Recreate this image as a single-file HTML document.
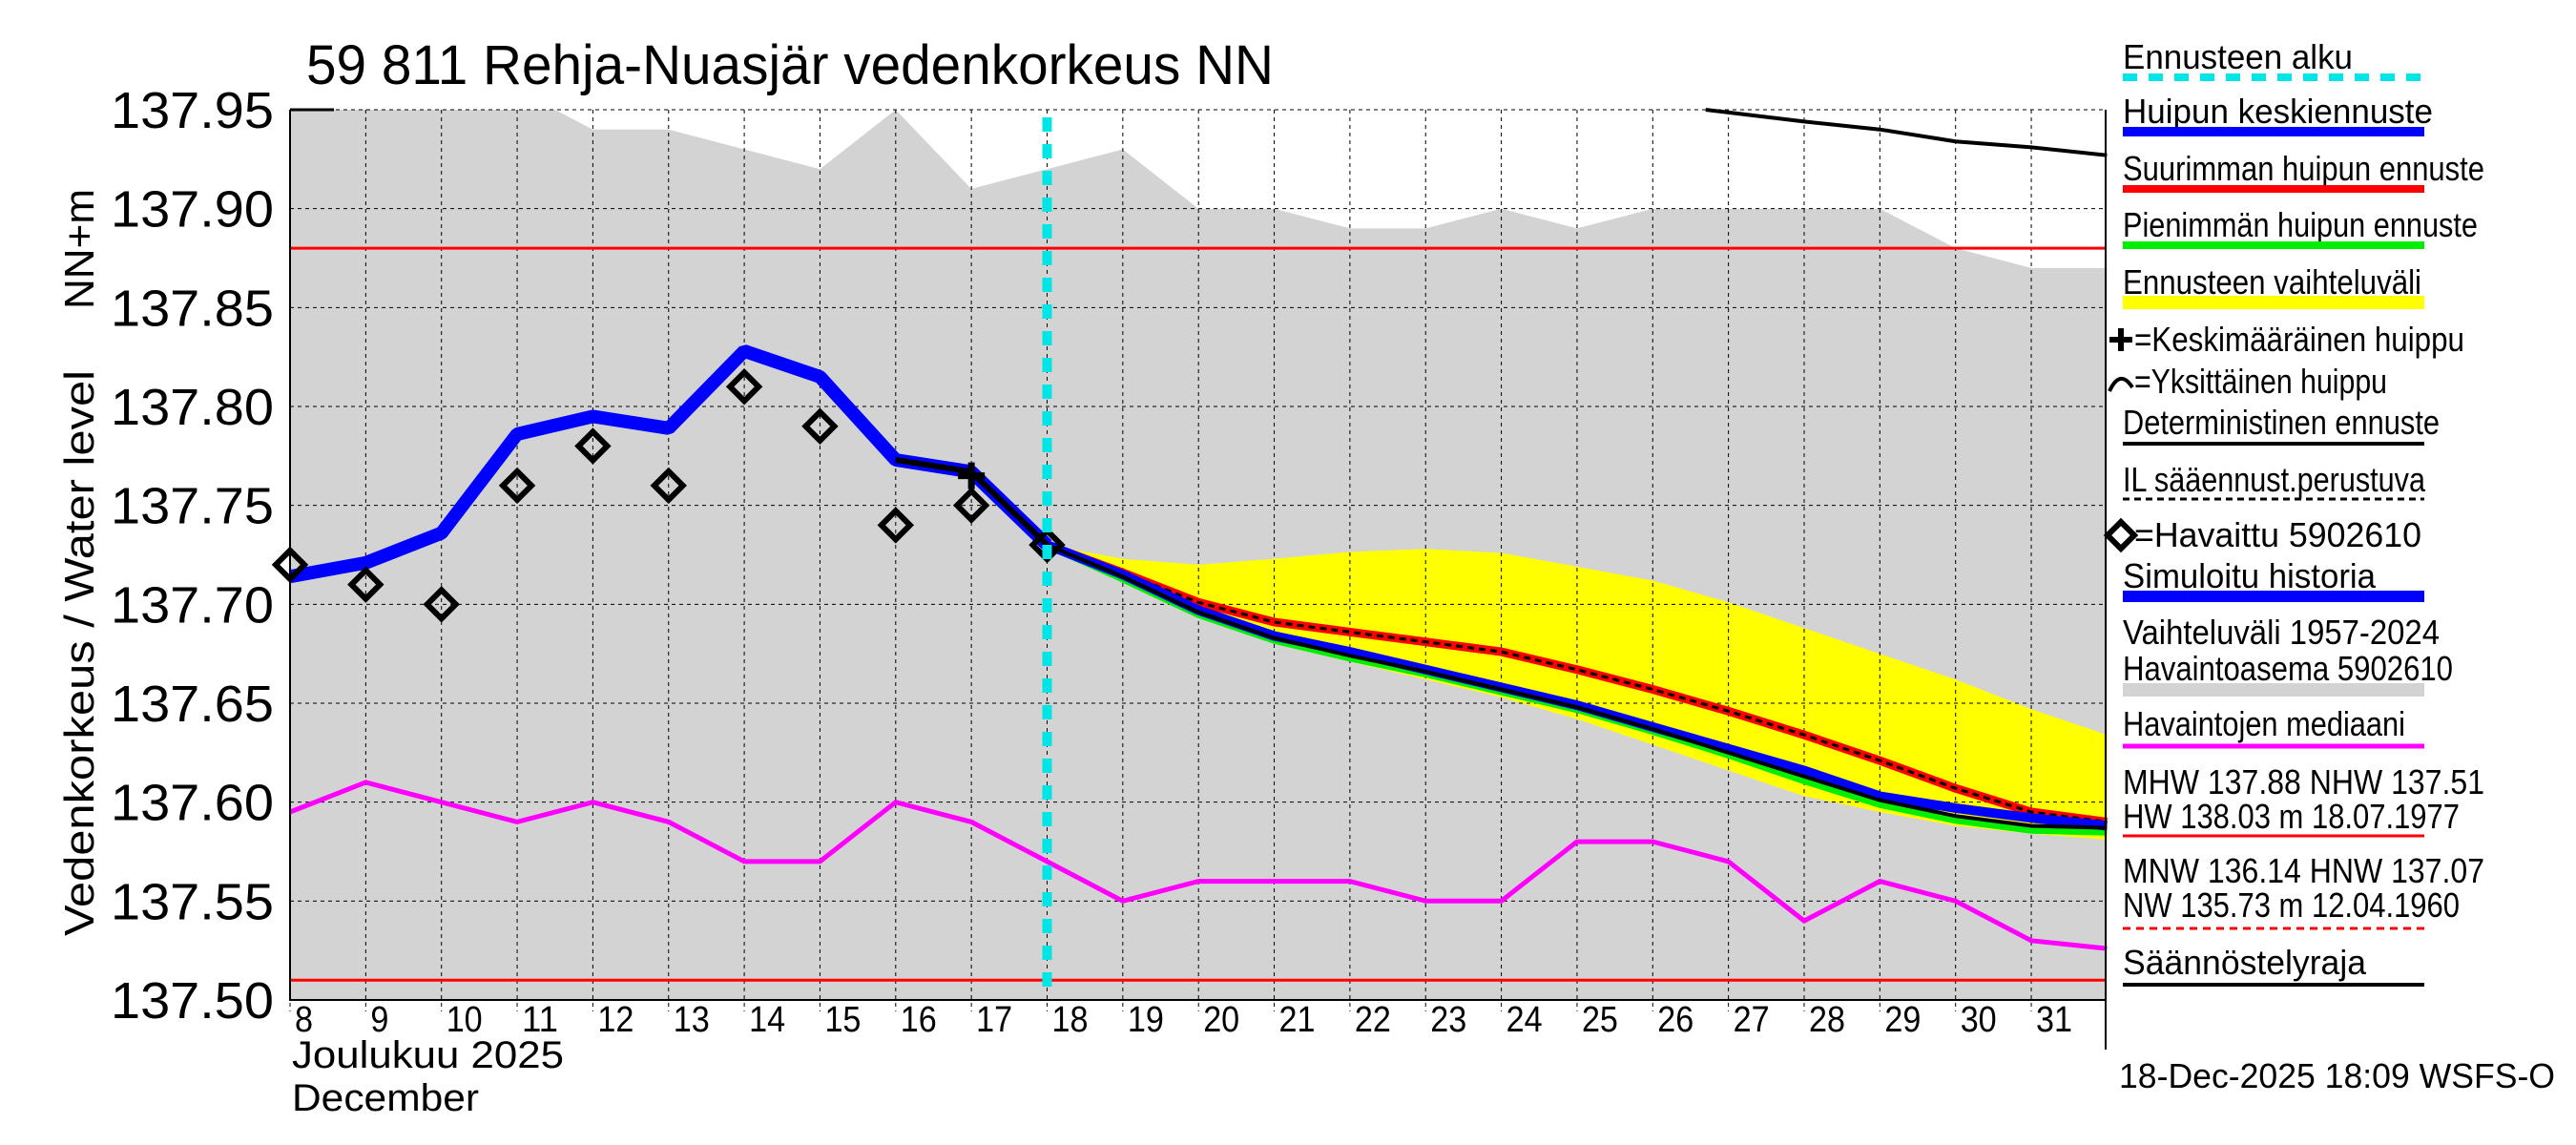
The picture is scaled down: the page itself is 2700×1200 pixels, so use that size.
<!DOCTYPE html>
<html><head><meta charset="utf-8"><style>html,body{margin:0;padding:0;background:#fff}svg{display:block}</style></head>
<body>
<svg id="chart" xmlns="http://www.w3.org/2000/svg" width="2700" height="1200" viewBox="0 0 2700 1200" font-family="'Liberation Sans', sans-serif">
<g id="plot"></g>
<g id="legend"></g>
</svg>
<script>
// ---- data ----
const yTicks = [137.50,137.55,137.60,137.65,137.70,137.75,137.80,137.85,137.90,137.95];
const dayLabels = ["8","9","10","11","12","13","14","15","16","17","18","19","20","21","22","23","24","25","26","27","28","29","30","31"];
const grayDays = [8,9,10,11,11.5,12,13,14,15,16,17,18,19,20,21,22,23,24,25,26,27,28,29,30,31,32];
const grayUpper = [137.95,137.95,137.95,137.95,137.95,137.94,137.94,137.93,137.92,137.95,137.91,137.92,137.93,137.90,137.90,137.89,137.89,137.90,137.89,137.90,137.90,137.90,137.90,137.88,137.87,137.87];
const histDays = [8,9,10,11,12,13,14,15,16,17,18];
const histSim = [137.714,137.721,137.736,137.786,137.795,137.789,137.828,137.815,137.773,137.767,137.730];
const obsValues = [137.72,137.71,137.70,137.76,137.78,137.76,137.81,137.79,137.74,137.75,137.73];
const detHistDays = [16,17,18];
const detHist = [137.773,137.767,137.730];
const medianDays = [8,9,10,11,12,13,14,15,16,17,18,19,20,21,22,23,24,25,26,27,28,29,30,31,32];
const medianVals = [137.595,137.61,137.60,137.59,137.60,137.59,137.57,137.57,137.60,137.59,137.57,137.55,137.56,137.56,137.56,137.55,137.55,137.58,137.58,137.57,137.54,137.56,137.55,137.53,137.526];
const fcDays = [18,19,20,21,22,23,24,25,26,27,28,29,30,31,32];
const fcUpper = [137.73,137.723,137.720,137.723,137.7265,137.728,137.726,137.719,137.712,137.701,137.688,137.675,137.662,137.647,137.634];
const fcLower = [137.73,137.713,137.693,137.680,137.671,137.662,137.653,137.642,137.629,137.616,137.603,137.595,137.588,137.584,137.581];
const fcMax = [137.73,137.716,137.701,137.691,137.686,137.681,137.676,137.667,137.657,137.646,137.634,137.621,137.607,137.595,137.590];
const fcMean = [137.73,137.715,137.697,137.684,137.676,137.667,137.658,137.649,137.638,137.627,137.616,137.603,137.597,137.592,137.588];
const fcMin = [137.73,137.713,137.695,137.682,137.673,137.665,137.656,137.647,137.636,137.624,137.611,137.599,137.591,137.586,137.585];
const fcDet = [137.73,137.714,137.696,137.683,137.674,137.666,137.657,137.648,137.637,137.625,137.613,137.601,137.593,137.588,137.587];
const topDays = [26.7,28,29,30,31,32];
const topVals = [137.95,137.944,137.94,137.934,137.931,137.927];
const meanPeakDay = 17, meanPeakVal = 137.765;
const forecastStartDay = 18;
const mhw = 137.88, nhw = 137.51;

// ---- axes ----
const X0=304, DAYW=79.35, YTOP=115, YBOT=1048, VMIN=137.50, VMAX=137.95;
const X=d=>X0+(d-8)*DAYW;
const Y=v=>YBOT-(v-VMIN)/(VMAX-VMIN)*(YBOT-YTOP);
const XR=2207;
const NS="http://www.w3.org/2000/svg";
const plot=document.getElementById('plot');
const legend=document.getElementById('legend');
function mk(tag,attrs,parent){const e=document.createElementNS(NS,tag);for(const k in attrs)e.setAttribute(k,attrs[k]);(parent||plot).appendChild(e);return e;}
function pts(ds,vs){return ds.map((d,i)=>X(d).toFixed(1)+','+Y(vs[i]).toFixed(1)).join(' ');}

let e;
e=mk('rect',{x:X0,y:YTOP,width:XR-X0,height:YBOT-YTOP,fill:'#fff'});


e=mk('polygon',{points:pts(grayDays,grayUpper)+' '+X(32)+','+YBOT+' '+X(8)+','+YBOT,fill:'#d3d3d3'});


e=mk('polygon',{points:pts(fcDays,fcUpper)+' '+pts(fcDays.slice().reverse(),fcLower.slice().reverse()),fill:'#ffff00'});


yTicks.forEach(v=>{
  e=mk('line',{x1:X0,x2:XR,y1:Y(v),y2:Y(v),stroke:'#000','stroke-width':1,'stroke-dasharray':'4,4'});
  
  
  e=mk('text',{x:287,y:Y(v)+19,'text-anchor':'end','font-size':54,textLength:171,lengthAdjust:'spacingAndGlyphs'});
  e.textContent=v.toFixed(2);
  
  
});
dayLabels.forEach((lab,i)=>{
  const x=X(8+i);
  e=mk('line',{x1:x,x2:x,y1:YTOP,y2:YBOT+12,stroke:'#000','stroke-width':1,'stroke-dasharray':'4,4'});
  
  
  e=mk('text',{x:x+5,y:1081,'font-size':38,textLength:lab.length*19,lengthAdjust:'spacingAndGlyphs'});
  e.textContent=lab;
  
  
});
[mhw,nhw].forEach(v=>{
  e=mk('line',{x1:X0,x2:XR,y1:Y(v),y2:Y(v),stroke:'#ff0000','stroke-width':3});
  
  
});
e=mk('polyline',{points:pts(medianDays,medianVals),fill:'none',stroke:'#ff00ff','stroke-width':5});


e=mk('polyline',{points:pts(topDays,topVals),fill:'none',stroke:'#000','stroke-width':4});


e=mk('polyline',{points:pts(fcDays,fcMin),fill:'none',stroke:'#00ee00','stroke-width':8});


e=mk('polyline',{points:pts(fcDays,fcMax),fill:'none',stroke:'#ff0000','stroke-width':9});


e=mk('polyline',{points:pts(fcDays,fcMax),fill:'none',stroke:'#000','stroke-width':3,'stroke-dasharray':'7,5'});


e=mk('polyline',{points:pts(fcDays,fcMean),fill:'none',stroke:'#0000ff','stroke-width':10});


e=mk('polyline',{points:pts(fcDays,fcDet),fill:'none',stroke:'#000','stroke-width':4});


e=mk('polyline',{points:pts(histDays,histSim),fill:'none',stroke:'#0000ff','stroke-width':14,'stroke-linejoin':'bevel'});


e=mk('polyline',{points:pts(detHistDays,detHist),fill:'none',stroke:'#000','stroke-width':6});


histDays.forEach((d,i)=>{
  const cx=X(d),cy=Y(obsValues[i]),r=15;
  e=mk('polygon',{points:`${cx},${cy-r} ${cx+r},${cy} ${cx},${cy+r} ${cx-r},${cy}`,fill:'none',stroke:'#000','stroke-width':6});
  
  
});
{const cx=X(meanPeakDay),cy=Y(meanPeakVal);
e=mk('path',{d:`M${cx-14},${cy}H${cx+14}M${cx},${cy-14}V${cy+14}`,stroke:'#000','stroke-width':7});

}
e=mk('line',{x1:X(forecastStartDay),x2:X(forecastStartDay),y1:YTOP+8,y2:YBOT,stroke:'#00e5e5','stroke-width':10,'stroke-dasharray':'15,13'});


e=mk('path',{d:`M${X0},${YTOP}V${YBOT}H${XR}M${XR},${YTOP}V1100`,fill:'none',stroke:'#000','stroke-width':2});


e=mk('line',{x1:X0,x2:350,y1:YTOP,y2:YTOP,stroke:'#000','stroke-width':3});


e=mk('line',{x1:X0,x2:XR,y1:YTOP,y2:YTOP,stroke:'#000','stroke-width':1,'stroke-dasharray':'4,4'});



e=mk('text',{x:321,y:88,'font-size':58,textLength:1014,lengthAdjust:'spacingAndGlyphs'});
e.textContent='59 811 Rehja-Nuasjär vedenkorkeus NN';


e=mk('text',{x:0,y:0,'font-size':44,textLength:593,lengthAdjust:'spacingAndGlyphs',transform:'translate(98,981) rotate(-90)'});
e.textContent='Vedenkorkeus / Water level';


e=mk('text',{x:0,y:0,'font-size':44,textLength:126,lengthAdjust:'spacingAndGlyphs',transform:'translate(98,324) rotate(-90)'});
e.textContent='NN+m';


e=mk('text',{x:306,y:1119,'font-size':40,textLength:285,lengthAdjust:'spacingAndGlyphs','xml:space':'preserve'});
e.textContent='Joulukuu  2025';


e=mk('text',{x:306,y:1164,'font-size':40,textLength:196,lengthAdjust:'spacingAndGlyphs'});
e.textContent='December';



const LX=2225, LX2=2541;
function ltext(t,x,y,w,name){const el=mk('text',{x:x,y:y,'font-size':36,textLength:w,lengthAdjust:'spacingAndGlyphs'},legend);el.textContent=t;return el;}
function lline(y,col,w,dash,name){const a={x1:LX,x2:LX2,y1:y,y2:y,stroke:col,'stroke-width':w};if(dash)a['stroke-dasharray']=dash;const el=mk('line',a,legend);}
ltext('Ennusteen alku',LX,72,241,'legend-forecast-start');
lline(81,'#00e5e5',8,'15,12','legend-forecast-start-swatch');
ltext('Huipun keskiennuste',LX,129,325,'legend-mean-peak');
lline(138,'#0000ff',10,null,'legend-mean-peak-swatch');
ltext('Suurimman huipun ennuste',LX,189,379,'legend-max-peak');
lline(198,'#ff0000',8,null,'legend-max-peak-swatch');
ltext('Pienimmän huipun ennuste',LX,248,372,'legend-min-peak');
lline(257,'#00ee00',8,null,'legend-min-peak-swatch');
ltext('Ennusteen vaihteluväli',LX,308,313,'legend-forecast-range');
lline(317,'#ffff00',14,null,'legend-forecast-range-swatch');
e=mk('path',{d:'M2211,356H2235M2223,344V368',stroke:'#000','stroke-width':6},legend);


ltext('=Keskimääräinen huippu',2237,368,346,'legend-mean-peak-marker');
e=mk('path',{d:'M2211,410Q2222,386 2235,406',fill:'none',stroke:'#000','stroke-width':4},legend);


ltext('=Yksittäinen huippu',2237,412,265,'legend-single-peak');
ltext('Deterministinen ennuste',LX,455,332,'legend-deterministic');
lline(465,'#000',4,null,'legend-deterministic-swatch');
ltext('IL sääennust.perustuva',LX,515,317,'legend-weather-forecast');
lline(523,'#000',3,'7,5','legend-weather-forecast-swatch');
e=mk('polygon',{points:'2223,547 2237,561 2223,575 2209,561',fill:'none',stroke:'#000','stroke-width':6},legend);


ltext('=Havaittu 5902610',2237,573,301,'legend-observed');
ltext('Simuloitu historia',LX,616,265,'legend-simulated');
lline(625,'#0000ff',12,null,'legend-simulated-swatch');
ltext('Vaihteluväli 1957-2024',LX,675,332,'legend-range-years');
ltext('Havaintoasema 5902610',LX,713,346,'legend-station');
lline(723,'#d3d3d3',14,null,'legend-range-swatch');
ltext('Havaintojen mediaani',LX,771,296,'legend-median');
lline(782,'#ff00ff',5,null,'legend-median-swatch');
ltext('MHW 137.88 NHW 137.51',LX,832,379,'legend-mhw');
ltext('HW 138.03 m 18.07.1977',LX,868,353,'legend-hw');
lline(876,'#ff0000',3,null,'legend-hw-swatch');
ltext('MNW 136.14 HNW 137.07',LX,925,379,'legend-mnw');
ltext('NW 135.73 m 12.04.1960',LX,961,353,'legend-nw');
lline(973,'#ff0000',3,'8,6','legend-nw-swatch');
ltext('Säännöstelyraja',LX,1021,255,'legend-regulation');
lline(1032,'#000',4,null,'legend-regulation-swatch');
ltext('18-Dec-2025 18:09 WSFS-O',2221,1140,457,'timestamp');
</script>
</body></html>
